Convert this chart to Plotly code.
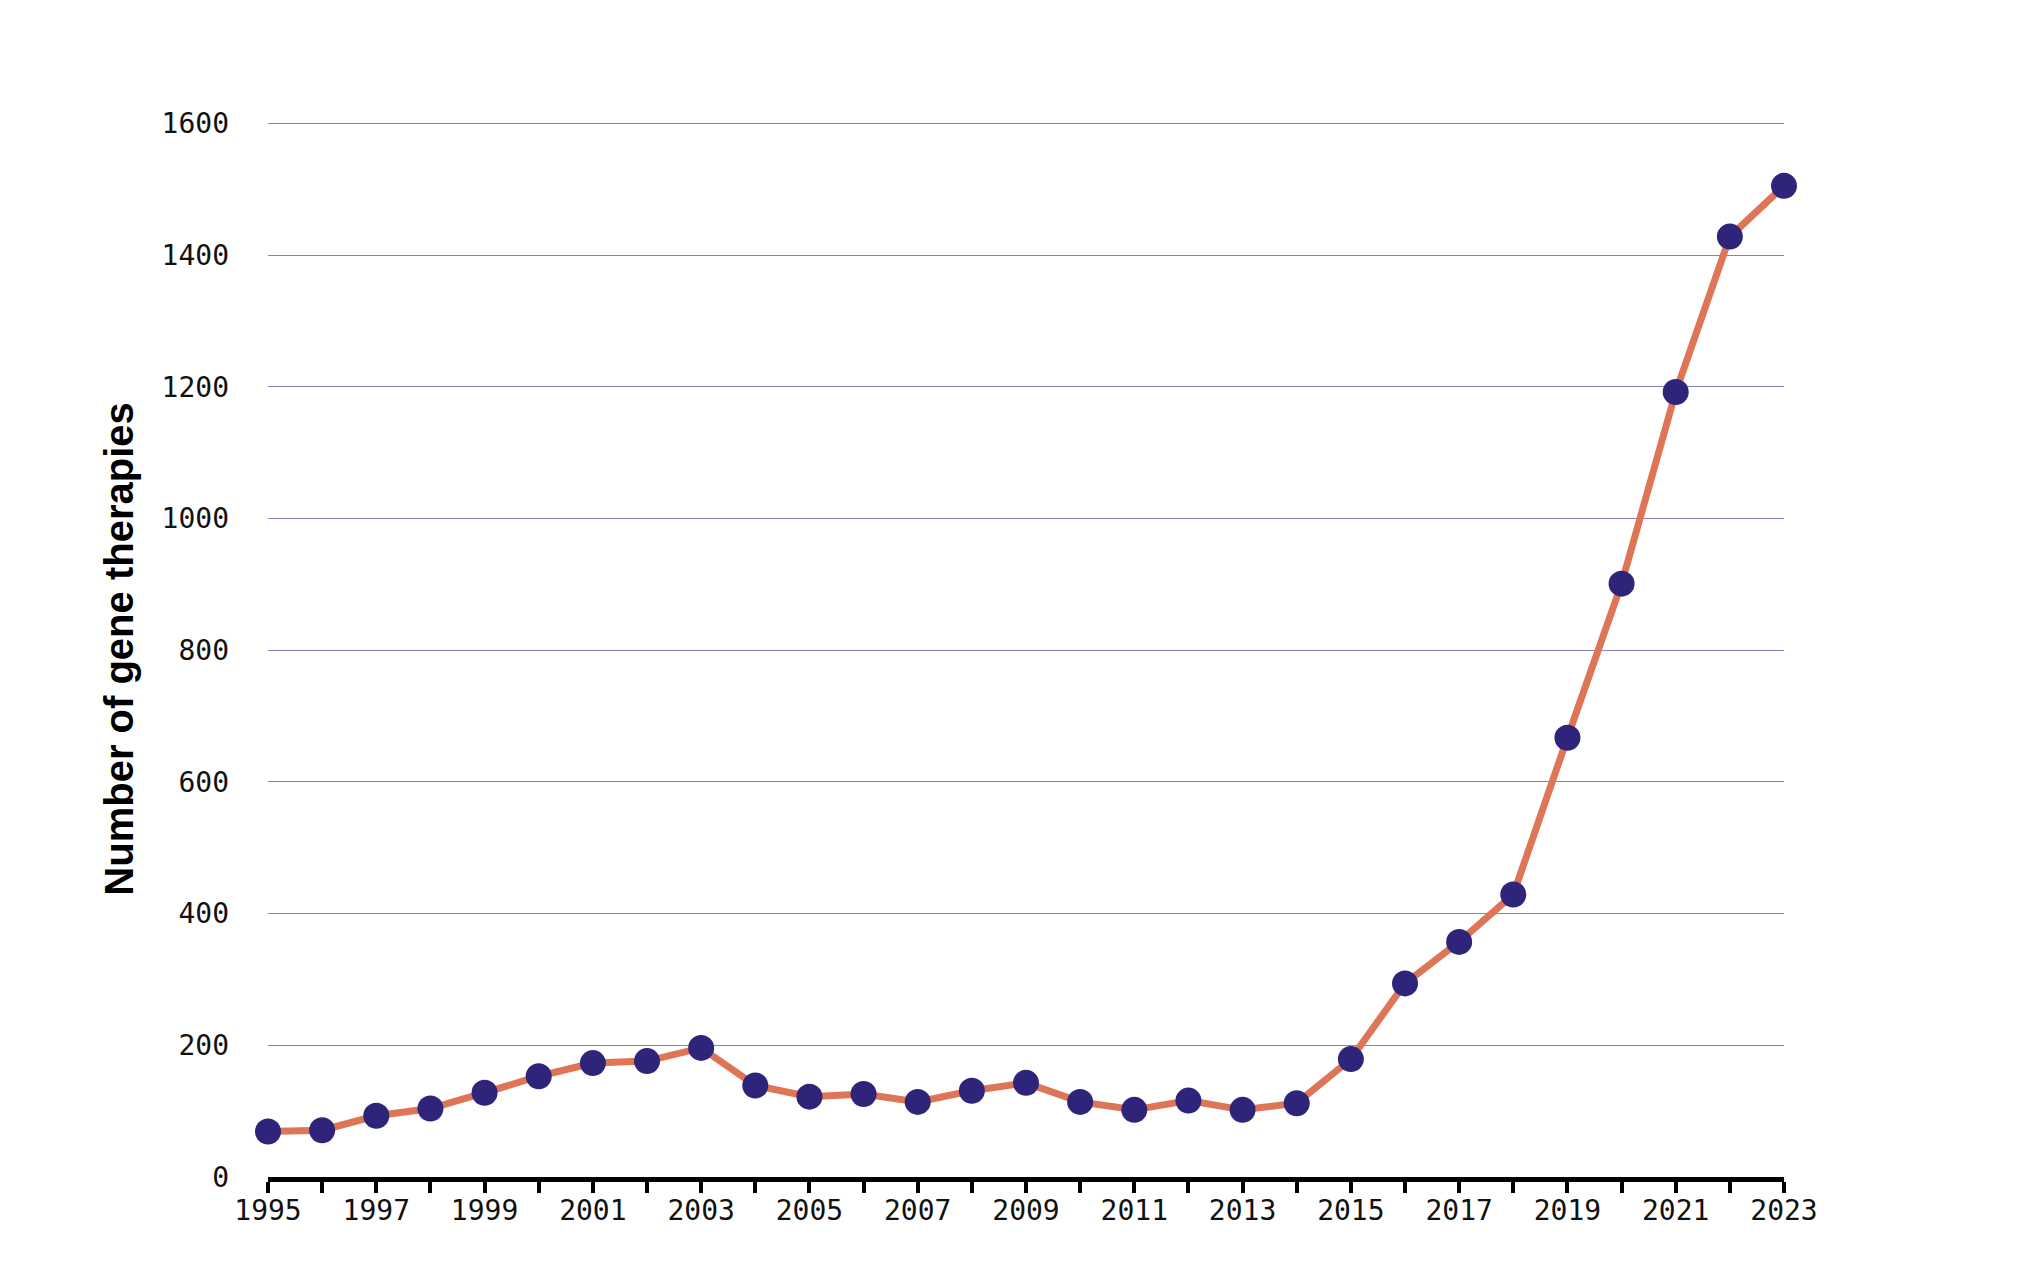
import plotly.graph_objects as go

years = list(range(1995, 2024))
therapies = [69, 71, 93, 104, 128, 153, 173, 176, 196, 139, 122, 126, 114, 131, 143,
             114, 102, 116, 102, 112, 179, 294, 357, 429, 667, 901, 1192, 1428, 1505]
x_tick_labels = [str(y) if (y - 1995) % 2 == 0 else "" for y in years]
y_tick_vals = [0, 200, 400, 600, 800, 1000, 1200, 1400, 1600]
y_title = "Number of gene therapies"

LINE_COLOR = "#de7556"
MARKER_COLOR = "#2e257a"
GRID_COLOR = "#8780bd"
MONO = "DejaVu Sans Mono, Liberation Mono, monospace"

fig = go.Figure()
fig.add_trace(go.Scatter(
    x=years, y=therapies, mode="lines+markers",
    line=dict(color=LINE_COLOR, width=7),
    marker=dict(color=MARKER_COLOR, size=26, line=dict(width=0)),
    cliponaxis=False, showlegend=False,
))

fig.update_layout(
    width=2026, height=1286,
    margin=dict(l=260, r=250, t=113, b=117),
    paper_bgcolor="white", plot_bgcolor="white",
    font=dict(family=MONO, size=28, color="#111111"),
    xaxis=dict(
        range=[1995, 2023], tickmode="array", tickvals=years, ticktext=x_tick_labels,
        showgrid=False, zeroline=False,
        showline=True, linecolor="black", linewidth=5,
        ticks="outside", ticklen=11, tickwidth=4, tickcolor="black",
        ticklabelstandoff=-7,
        tickfont=dict(family=MONO, size=28, color="#111111"),
    ),
    yaxis=dict(
        range=[0, 1603.5], tickmode="array", tickvals=y_tick_vals,
        showgrid=True, gridcolor=GRID_COLOR, gridwidth=1.1,
        zeroline=False, showline=False, ticks="",
        ticklabelstandoff=38,
        tickfont=dict(family=MONO, size=28, color="#111111"),
    ),
    annotations=[dict(
        text=y_title, xref="paper", yref="paper",
        x=-0.0985, y=0.5, xanchor="center", yanchor="middle",
        textangle=-90, showarrow=False,
        font=dict(family="Liberation Sans, Arial, sans-serif", size=40, color="black", weight="bold"),
    )],
)

fig.write_html("out.html")
